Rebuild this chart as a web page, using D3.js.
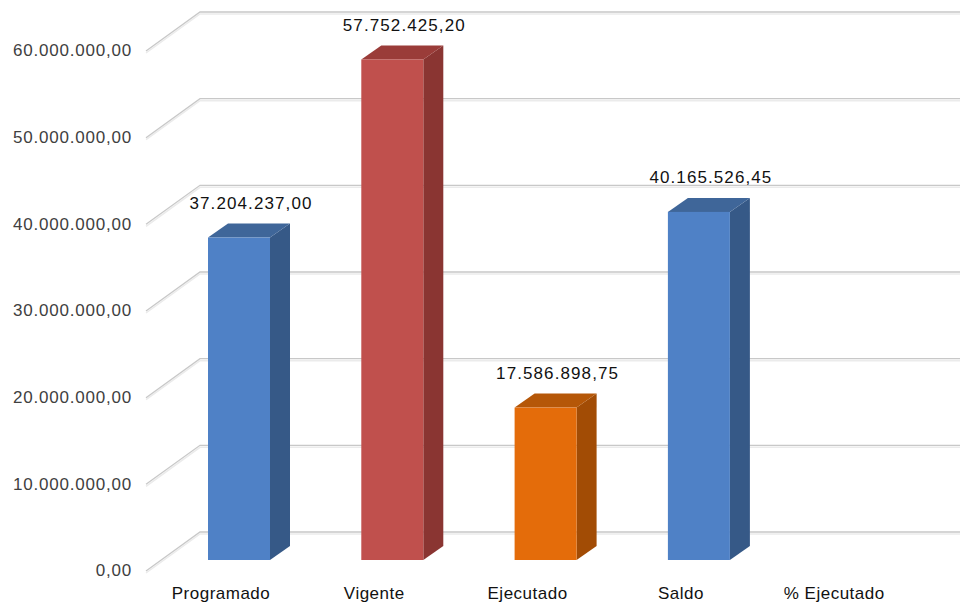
<!DOCTYPE html>
<html><head><meta charset="utf-8">
<script src="https://cdn.jsdelivr.net/npm/d3@7"></script>
<style>body{margin:0;background:#fff}svg{display:block}</style>
</head><body><svg id="c" width="960" height="610"></svg>
<script>
const categories = ["Programado","Vigente","Ejecutado","Saldo","% Ejecutado"];
const values = [37204237.00, 57752425.20, 17586898.75, 40165526.45, null];
const barColors = ["blue","red","orange","blue",null];
const tickValues = [0,10000000,20000000,30000000,40000000,50000000,60000000];

const palette = {
  blue:  {front:"#4F81C6", side:"#365987", top:"#3F6699"},
  red:   {front:"#C0504D", side:"#8A3532", top:"#9A3C39"},
  orange:{front:"#E46C0A", side:"#A24C05", top:"#B55708"}
};
const es = d3.formatLocale({decimal:",", thousands:".", grouping:[3], currency:["",""]});
const fmt = es.format(",.2f");
const FONT = "Liberation Sans, Arial, sans-serif";

const svg = d3.select("#c");
const yBack = d3.scaleLinear().domain([0,60000000]).range([532,12]);
const yBar = d3.scaleLinear().domain([0,60000000]).range([560,40]);
const wallDX = 54, wallDY = 39;
const depthDX = 20, depthDY = -14;
const barW = 62;
const x = d3.scalePoint().domain(categories).range([239, 852.2]);

const g = svg.append("g");
tickValues.forEach(v => {
  const yb = yBack(v), xb = 146 + wallDX;
  const pts = [[146, yb+wallDY],[xb, yb],[960, yb]];
  g.append("polyline").attr("points", pts.map(p=>[p[0],p[1]+2].join(",")).join(" "))
    .attr("fill","none").attr("stroke","#ebebeb").attr("stroke-width",1.5);
  g.append("polyline").attr("points", pts.map(p=>p.join(",")).join(" "))
    .attr("fill","none").attr("stroke","#c8c8c8").attr("stroke-width",1.3);
  svg.append("text").attr("x",132).attr("y",yb+wallDY+1).attr("text-anchor","end")
    .attr("dominant-baseline","middle")
    .attr("font-family",FONT).attr("font-size",17)
    .attr("letter-spacing",0.8).attr("fill","#404040").text(fmt(v));
});

categories.forEach((c,i) => {
  const v = values[i];
  if (v == null) return;
  const col = palette[barColors[i]];
  const x0 = x(c) - barW/2, x1 = x0 + barW;
  const yb = yBar(0), yt = yBar(v);
  svg.append("polygon").attr("points",[[x1,yb],[x1+depthDX,yb+depthDY],[x1+depthDX,yt+depthDY],[x1,yt]].map(p=>p.join(",")).join(" "))
    .attr("fill",col.side);
  svg.append("polygon").attr("points",[[x0,yt],[x1,yt],[x0+depthDX+barW,yt+depthDY],[x0+depthDX,yt+depthDY]].map(p=>p.join(",")).join(" "))
    .attr("fill",col.top);
  svg.append("rect").attr("x",x0).attr("y",yt).attr("width",barW).attr("height",yb-yt).attr("fill",col.front);
  svg.append("text").attr("x",x(c)+depthDX/2+2).attr("y",yt+depthDY-19)
    .attr("text-anchor","middle").attr("dominant-baseline","middle")
    .attr("font-family",FONT).attr("font-size",17)
    .attr("letter-spacing",1.1).attr("fill","#111").text(fmt(v));
});

categories.forEach(c => {
  svg.append("text").attr("x",x(c)-18).attr("y",599).attr("text-anchor","middle")
    .attr("font-family",FONT).attr("font-size",17)
    .attr("letter-spacing",0.5).attr("fill","#111").text(c);
});
</script></body></html>
